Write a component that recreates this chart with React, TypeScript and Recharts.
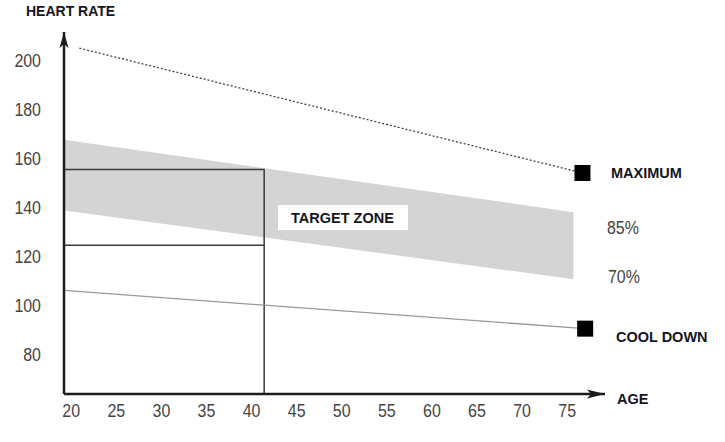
import React from "react";
import {
  ComposedChart, Line, Area, Scatter, XAxis, YAxis, ReferenceDot,
} from "recharts";

const AGE_TICKS = [20, 25, 30, 35, 40, 45, 50, 55, 60, 65, 70, 75];
const HR_TICKS = [80, 100, 120, 140, 160, 180, 200];

const MAX_LINE = [{ age: 20.9, hr: 205 }, { age: 76.7, hr: 154 }];
const TARGET_BAND = [
  { age: 19.2, lo: 138.7, hi: 167.6 },
  { age: 75.7, lo: 110.6, hi: 138.0 },
];
const COOL_DOWN = [{ age: 19.2, hr: 106 }, { age: 77, hr: 90.4 }];
const TARGET_UPPER = [{ age: 19.2, hr: 155.4 }, { age: 41.4, hr: 155.4 }, { age: 41.4, hr: 63.7 }];
const TARGET_LOWER = [{ age: 19.2, hr: 124.5 }, { age: 41.4, hr: 124.5 }];
const MARKERS = [{ age: 76.7, hr: 154 }, { age: 77, hr: 90.4 }];

const X_DOMAIN = [19.2, 79.2];
const Y_DOMAIN = [63.7, 211.6];

const NUM_FONT = "'Liberation Sans', Arial, sans-serif";
const BOLD_FONT = "'Liberation Sans', Arial, sans-serif";
const AXIS = "#1c1c1c";
const SQUEEZE = 0.84; // reference numbers use a condensed face

const Square = (p: any) => (
  <rect x={p.cx - 8} y={p.cy - 8} width={16} height={16} fill="#000" />
);

const ArrowRight = (p: any) => (
  <path d={`M${p.cx},${p.cy} L${p.cx - 18},${p.cy - 4.5} L${p.cx - 14},${p.cy} L${p.cx - 18},${p.cy + 4.5} Z`} fill={AXIS} />
);

const ArrowUp = (p: any) => (
  <path d={`M${p.cx},${p.cy} L${p.cx - 4.5},${p.cy + 16} L${p.cx},${p.cy + 12} L${p.cx + 4.5},${p.cy + 16} Z`} fill={AXIS} />
);

// condensed tick label, placed where the axis puts it
const NarrowTick = (p: any) => {
  const bottom = p.orientation === "bottom";
  return (
    <g transform={`translate(${p.x},${p.y}) scale(${SQUEEZE},1)`}>
      <text
        textAnchor={bottom ? "middle" : "end"}
        dy={bottom ? "0.71em" : "0.355em"}
        fill="#444" fontSize={19} fontFamily={NUM_FONT}
      >
        {p.payload.value}
      </text>
    </g>
  );
};

export default function App() {
  const boldText = { fontFamily: BOLD_FONT, fontWeight: 700, fontSize: 14.5, fill: "#15151f" };
  const numText = { fontFamily: NUM_FONT, fontSize: 19, fill: "#444" };
  return (
    <div style={{ position: "absolute", left: 0, top: 0, width: 725, height: 442, background: "#fff" }}>
      <ComposedChart width={725} height={442} margin={{ top: 32, right: 120, bottom: 0, left: 0 }}>
        <XAxis
          type="number" dataKey="age" domain={X_DOMAIN} allowDataOverflow
          ticks={AGE_TICKS} interval={0} tickLine={false} tickSize={0} tickMargin={9} height={48}
          axisLine={{ stroke: AXIS, strokeWidth: 2.5 }}
          tick={<NarrowTick orientation="bottom" />}
        />
        <YAxis
          type="number" dataKey="hr" domain={Y_DOMAIN} allowDataOverflow
          ticks={HR_TICKS} interval={0} tickLine={false} tickSize={0} tickMargin={23} width={64}
          axisLine={{ stroke: AXIS, strokeWidth: 2.5 }}
          tick={<NarrowTick orientation="left" />}
        />
        <Area
          data={TARGET_BAND} dataKey={(d: any) => [d.lo, d.hi]} type="linear"
          stroke="none" fill="#d4d4d4" fillOpacity={1} isAnimationActive={false}
        />
        <Line data={TARGET_UPPER} dataKey="hr" type="linear" stroke="#3a3a3a" strokeWidth={1.5} dot={false} isAnimationActive={false} />
        <Line data={TARGET_LOWER} dataKey="hr" type="linear" stroke="#3a3a3a" strokeWidth={1.5} dot={false} isAnimationActive={false} />
        <Line data={COOL_DOWN} dataKey="hr" type="linear" stroke="#9a9a9a" strokeWidth={1.3} dot={false} isAnimationActive={false} />
        <Line data={MAX_LINE} dataKey="hr" type="linear" stroke="#444" strokeWidth={1.3} strokeDasharray="2 2" dot={false} isAnimationActive={false} />
        <Scatter data={MARKERS} dataKey="hr" shape={Square} isAnimationActive={false} />
        <ReferenceDot x={X_DOMAIN[1]} y={Y_DOMAIN[0]} ifOverflow="visible" shape={ArrowRight} />
        <ReferenceDot x={X_DOMAIN[0]} y={Y_DOMAIN[1]} ifOverflow="visible" shape={ArrowUp} />
      </ComposedChart>
      <svg width={725} height={442} style={{ position: "absolute", left: 0, top: 0, pointerEvents: "none" }}>
        <text x={26} y={15.7} style={{ ...boldText, fontSize: 14 }}>HEART RATE</text>
        <rect x={278} y={205} width={130} height={25} fill="#fff" />
        <text x={291} y={223} style={boldText}>TARGET ZONE</text>
        <text x={611} y={177.7} style={boldText}>MAXIMUM</text>
        <text transform={`translate(607,234) scale(${SQUEEZE},1)`} style={numText}>85%</text>
        <text transform={`translate(608,283) scale(${SQUEEZE},1)`} style={numText}>70%</text>
        <text x={616} y={342} style={boldText}>COOL DOWN</text>
        <text x={617} y={404} style={boldText}>AGE</text>
      </svg>
    </div>
  );
}
